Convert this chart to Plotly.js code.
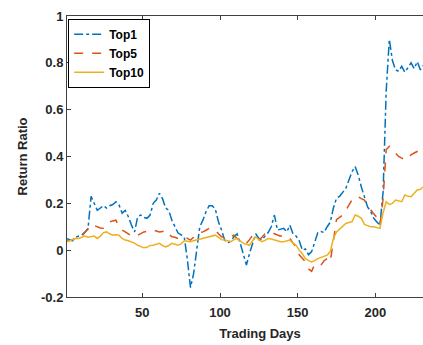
<!DOCTYPE html>
<html>
<head>
<meta charset="utf-8">
<script src="https://cdn.plot.ly/plotly-3.0.1.min.js"></script>
<style>
html,body{margin:0;padding:0;overflow:hidden;background:#fff;}
#chart{width:470px;height:345px;}
</style>
</head>
<body>
<div id="chart"></div>
<script>
// Trading days (every second day)
const days = [1,3,5,7,9,11,13,15,17,19,21,23,25,27,29,31,33,35,37,39,41,43,45,47,49,
51,53,55,57,59,61,63,65,67,69,71,73,75,77,79,81,83,85,87,89,91,93,95,97,99,
101,103,105,107,109,111,113,115,117,119,121,123,125,127,129,131,133,135,137,139,141,143,145,147,149,
151,153,155,157,159,161,163,165,167,169,171,173,175,177,179,181,183,185,187,189,191,193,195,197,199,
201,203,205,207,209,211,213,215,217,219,221,223,225,227,229,231,233,235,237,239,241,243,245,247,249];

const top1 = [0.05,0.045,0.04,0.055,0.06,0.065,0.077,0.09,0.23,0.2,0.17,0.18,0.19,0.18,0.19,0.195,0.207,0.193,0.158,0.17,0.143,0.107,0.078,0.143,0.15,
0.14,0.136,0.15,0.2,0.214,0.243,0.22,0.18,0.17,0.128,0.1,0.073,0.065,0.055,-0.04,-0.16,-0.1,0.0,0.1,0.128,0.164,0.19,0.19,0.175,0.121,
0.086,0.043,0.03,0.04,0.057,0.07,0.03,-0.02,-0.064,-0.014,0.029,0.07,0.05,0.043,0.06,0.075,0.1,0.15,0.086,0.09,0.093,0.078,0.107,0.07,0.06,
0.04,0.0,0.005,-0.02,-0.006,0.04,0.075,0.08,0.075,0.1,0.12,0.18,0.222,0.23,0.245,0.264,0.3,0.335,0.357,0.32,0.27,0.222,0.185,0.165,0.136,
0.12,0.107,0.25,0.68,0.9,0.81,0.77,0.764,0.785,0.76,0.78,0.8,0.775,0.805,0.77,0.79,0.8,0.78,0.795,0.81,0.79,0.8,0.785,0.81,0.8];

const top5 = [0.04,0.04,0.045,0.05,0.05,0.06,0.075,0.094,0.11,0.105,0.1,0.095,0.094,0.11,0.121,0.125,0.128,0.1,0.086,0.078,0.07,0.06,0.057,0.064,0.07,
0.078,0.08,0.086,0.086,0.082,0.078,0.08,0.086,0.07,0.057,0.055,0.05,0.055,0.057,0.05,0.043,0.055,0.07,0.075,0.078,0.085,0.093,0.09,0.086,0.07,
0.057,0.055,0.05,0.058,0.064,0.05,0.036,0.03,0.029,0.045,0.064,0.055,0.043,0.055,0.07,0.075,0.078,0.07,0.064,0.06,0.064,0.058,0.05,0.03,0.014,
-0.02,-0.035,-0.05,-0.08,-0.09,-0.06,-0.06,-0.064,-0.045,-0.036,-0.05,0.04,0.13,0.14,0.15,0.17,0.193,0.215,0.228,0.228,0.22,0.214,0.19,0.171,0.155,
0.14,0.107,0.22,0.43,0.443,0.43,0.414,0.4,0.393,0.386,0.39,0.407,0.415,0.421,0.428,0.43,0.425,0.432,0.43,0.435,0.43,0.438,0.435,0.44,0.44];

const top10 = [0.035,0.04,0.045,0.05,0.05,0.055,0.06,0.055,0.057,0.06,0.05,0.06,0.075,0.078,0.07,0.064,0.066,0.064,0.05,0.043,0.04,0.036,0.03,0.021,0.015,
0.01,0.012,0.02,0.021,0.025,0.029,0.02,0.014,0.02,0.029,0.025,0.021,0.027,0.04,0.038,0.036,0.04,0.043,0.047,0.05,0.052,0.057,0.06,0.064,0.055,
0.045,0.043,0.038,0.036,0.045,0.05,0.04,0.029,0.025,0.021,0.04,0.057,0.045,0.036,0.042,0.05,0.048,0.043,0.04,0.036,0.036,0.04,0.043,0.03,0.021,
0.0,-0.015,-0.036,-0.045,-0.05,-0.045,-0.036,-0.03,-0.025,-0.021,-0.006,0.05,0.078,0.09,0.1,0.114,0.118,0.121,0.15,0.145,0.136,0.11,0.105,0.1,0.1,
0.095,0.093,0.16,0.207,0.195,0.2,0.214,0.21,0.207,0.236,0.23,0.228,0.245,0.257,0.26,0.271,0.265,0.275,0.27,0.28,0.278,0.285,0.28,0.29,0.288];

const seriesNames = ['Top1','Top5','Top10'];
const xTickVals = [50,100,150,200];
const yTickVals = [-0.2,0,0.2,0.4,0.6,0.8,1];
const yTickText = ['-0.2','0','0.2','0.4','0.6','0.8','1'];

const FONT = 'Liberation Sans, Arial, Helvetica, sans-serif';
const tickFont = {family: FONT, size: 13, color: '#262626', weight: 'bold'};

const traces = [
  {x: days, y: top1, name: seriesNames[0], mode: 'lines', line: {color: '#0072BD', width: 1.5, dash: 'dashdot'}},
  {x: days, y: top5, name: seriesNames[1], mode: 'lines', line: {color: '#D95319', width: 1.5, dash: 'dash'}},
  {x: days, y: top10, name: seriesNames[2], mode: 'lines', line: {color: '#EDB120', width: 1.5}}
];

const axisCommon = {
  showgrid: false, zeroline: false, showline: true, mirror: 'ticks',
  linecolor: '#404040', linewidth: 1, ticks: 'inside', ticklen: 4, tickcolor: '#404040',
  tickfont: tickFont
};

const layout = {
  width: 470, height: 345,
  margin: {l: 67, r: 17, t: 16, b: 48},
  paper_bgcolor: '#fff', plot_bgcolor: '#fff',
  showlegend: true,
  legend: {
    x: 0.003, y: 0.99, xanchor: 'left', yanchor: 'top',
    bgcolor: '#fff', bordercolor: '#000', borderwidth: 1,
    font: {family: FONT, size: 12, color: '#000', weight: 'bold'},
    itemwidth: 30, tracegroupgap: 0, entrywidth: 0
  },
  xaxis: Object.assign({}, axisCommon, {
    range: [1.5, 250], tickvals: xTickVals, ticklabelstandoff: 3,
    title: {text: 'Trading Days', font: {family: FONT, size: 13, color: '#262626', weight: 'bold'}, standoff: 10}
  }),
  yaxis: Object.assign({}, axisCommon, {
    range: [-0.2, 1], tickvals: yTickVals, ticktext: yTickText,
    title: {text: 'Return Ratio', font: {family: FONT, size: 13, color: '#262626', weight: 'bold'}, standoff: 10}
  })
};

Plotly.newPlot('chart', traces, layout, {displayModeBar: false, staticPlot: true});
</script>
</body>
</html>
